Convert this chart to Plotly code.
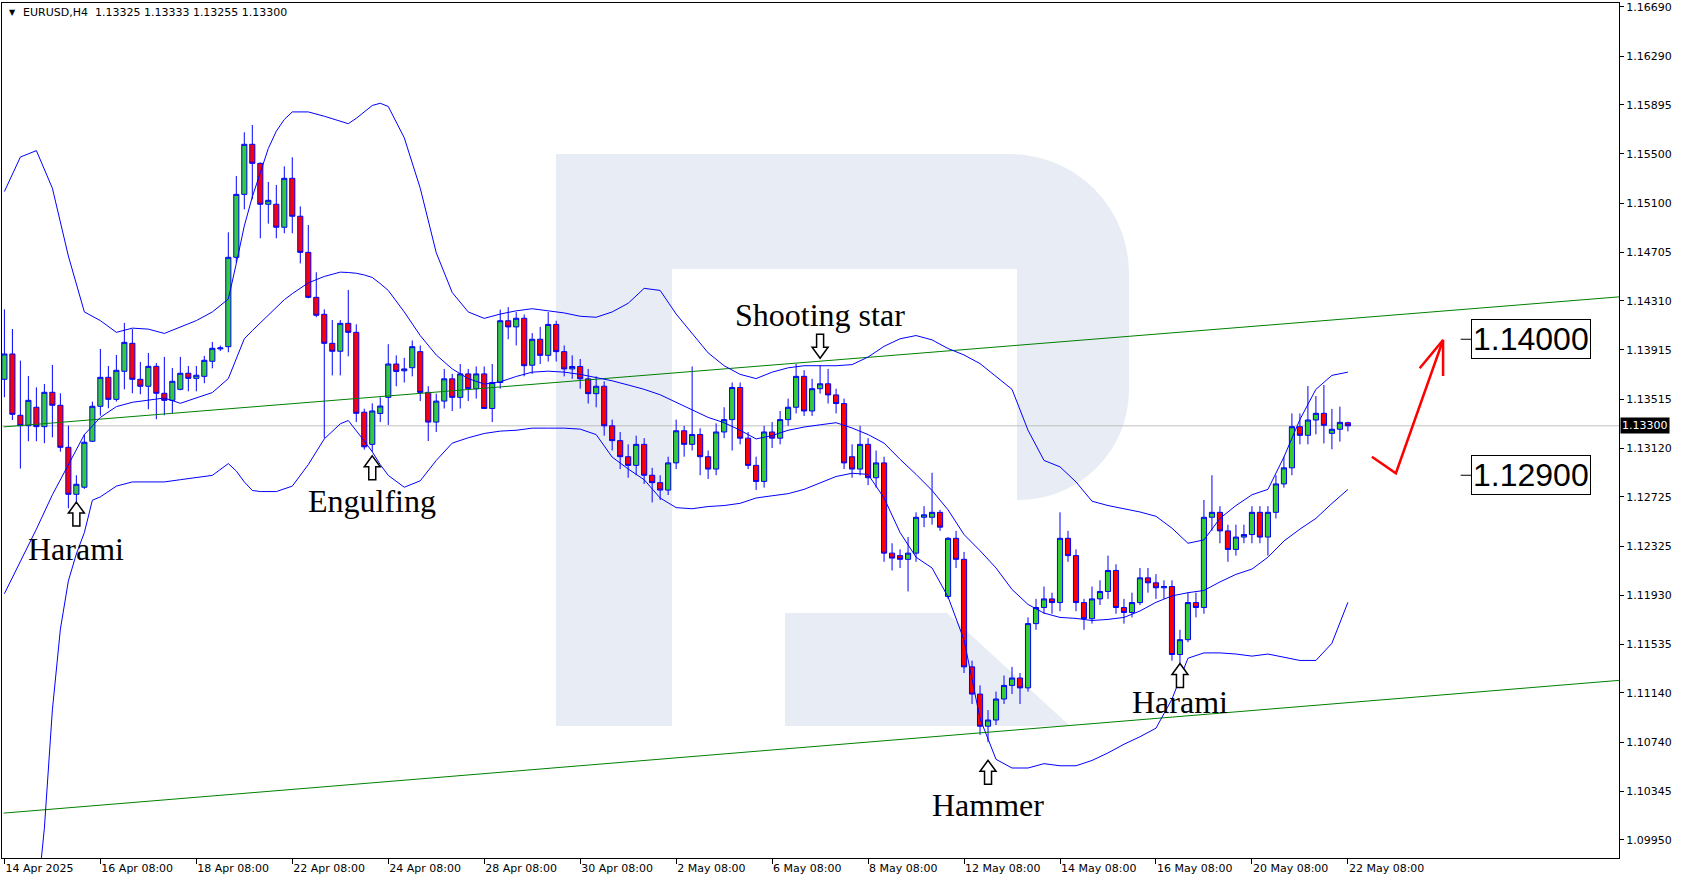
import math
import plotly.graph_objects as go

# ---------------- data ----------------
opens = [1.13676,1.13881,1.13385,1.13301,1.13450,1.13293,1.13571,1.13466,1.13126,1.12746,
         1.12803,1.13175,1.13458,1.13692,1.13514,1.13741,1.13967,1.13676,1.13620,1.13781,
         1.13563,1.13506,1.13595,1.13725,1.13684,1.13700,1.13822,1.13922,1.13940,1.14663,
         1.15172,1.15577,1.15423,1.15092,1.15092,1.14906,1.15302,1.14995,1.14703,1.14339,
         1.14202,1.13967,1.13903,1.14129,1.14056,1.13410,1.13150,1.13400,1.13530,1.13800,
         1.13745,1.13770,1.13900,1.13570,1.13330,1.13500,1.13680,1.13530,1.13720,1.13600,
         1.13720,1.13440,1.13650,1.14150,1.14100,1.14170,1.13790,1.14000,1.13870,1.14120,
         1.13900,1.13760,1.13780,1.13680,1.13560,1.13620,1.13300,1.13180,1.13050,1.12980,
         1.13150,1.12900,1.12840,1.12780,1.13000,1.13260,1.13150,1.13230,1.13050,1.12950,
         1.13250,1.13350,1.13610,1.13200,1.12980,1.12850,1.13250,1.13200,1.13350,1.13450,
         1.13700,1.13420,1.13600,1.13640,1.13550,1.13480,1.13050,1.12950,1.13150,1.12880,
         1.13000,1.12270,1.12250,1.12220,1.12270,1.12560,1.12560,1.12600,1.11920,1.12390,
         1.12220,1.11350,1.11130,1.10870,1.10920,1.11090,1.11200,1.11260,1.11180,1.11700,
         1.11830,1.11900,1.11870,1.12390,1.12250,1.11870,1.11740,1.11900,1.11960,1.12130,
         1.11830,1.11790,1.11870,1.12070,1.12030,1.11990,1.12000,1.11450,1.11570,1.11870,
         1.11830,1.12560,1.12600,1.12450,1.12300,1.12400,1.12420,1.12600,1.12400,1.12600,
         1.12830,1.12960,1.13293,1.13223,1.13347,1.13401,1.13239,1.13272,1.13325]
highs = [1.14242,1.14083,1.13827,1.13703,1.13611,1.13638,1.13792,1.13563,1.13301,1.12900,
         1.13231,1.13496,1.13921,1.13784,1.13873,1.14132,1.14083,1.13816,1.13889,1.13808,
         1.13857,1.13768,1.13857,1.13784,1.13784,1.13865,1.13978,1.13949,1.14865,1.15321,
         1.15674,1.15733,1.15430,1.15272,1.15248,1.15399,1.15472,1.15075,1.14924,1.14542,
         1.14242,1.14156,1.14156,1.14399,1.14121,1.13438,1.13482,1.13530,1.13960,1.13870,
         1.13850,1.13990,1.13950,1.13620,1.13560,1.13760,1.13720,1.13800,1.13760,1.13780,
         1.13780,1.13800,1.14240,1.14260,1.14220,1.14200,1.14050,1.14100,1.14220,1.14150,
         1.13950,1.13870,1.13840,1.13760,1.13700,1.13660,1.13350,1.13250,1.13150,1.13220,
         1.13200,1.12960,1.12900,1.13050,1.13350,1.13300,1.13780,1.13280,1.13100,1.13320,
         1.13450,1.13650,1.13650,1.13250,1.13050,1.13300,1.13330,1.13420,1.13520,1.13800,
         1.13750,1.13680,1.13790,1.13760,1.13600,1.13520,1.13150,1.13300,1.13200,1.13100,
         1.13050,1.12350,1.12300,1.12400,1.12600,1.12650,1.12920,1.12620,1.12400,1.12450,
         1.12280,1.11400,1.11200,1.11000,1.11150,1.11280,1.11350,1.11300,1.11750,1.11900,
         1.12000,1.11950,1.12600,1.12450,1.12300,1.11900,1.12000,1.12050,1.12250,1.12180,
         1.11900,1.11950,1.12150,1.12150,1.12100,1.12050,1.12050,1.11650,1.11950,1.11950,
         1.12700,1.12900,1.12650,1.12500,1.12500,1.12500,1.12650,1.12650,1.12650,1.12900,
         1.13050,1.13400,1.13400,1.13622,1.13541,1.13630,1.13436,1.13455,1.13333]
lows =  [1.13531,1.13347,1.12954,1.13175,1.13175,1.13159,1.13207,1.13091,1.12633,1.12687,
         1.12790,1.13170,1.13382,1.13442,1.13496,1.13595,1.13563,1.13555,1.13434,1.13353,
         1.13385,1.13401,1.13587,1.13579,1.13579,1.13644,1.13765,1.13905,1.13895,1.14614,
         1.15051,1.15132,1.14817,1.14935,1.14817,1.14857,1.14857,1.14614,1.14331,1.14178,
         1.13199,1.13708,1.13708,1.13862,1.13330,1.13107,1.13090,1.13330,1.13307,1.13620,
         1.13650,1.13700,1.13500,1.13177,1.13250,1.13440,1.13420,1.13440,1.13500,1.13520,
         1.13440,1.13330,1.13600,1.14000,1.13950,1.13700,1.13720,1.13800,1.13820,1.13820,
         1.13700,1.13680,1.13600,1.13480,1.13450,1.13220,1.13100,1.12950,1.12880,1.12900,
         1.12830,1.12680,1.12700,1.12740,1.12950,1.13050,1.13100,1.12900,1.12870,1.12900,
         1.13200,1.13100,1.13150,1.12950,1.12780,1.12800,1.13120,1.13150,1.13300,1.13400,
         1.13380,1.13380,1.13560,1.13480,1.13400,1.12950,1.12880,1.12900,1.12820,1.12800,
         1.12200,1.12130,1.12150,1.11960,1.12200,1.12480,1.12500,1.12450,1.11900,1.12150,
         1.11300,1.11050,1.10800,1.10741,1.10880,1.11050,1.11130,1.11050,1.11150,1.11650,
         1.11780,1.11780,1.11800,1.12200,1.11800,1.11650,1.11700,1.11850,1.11900,1.11780,
         1.11700,1.11750,1.11850,1.11950,1.11900,1.11900,1.11400,1.11380,1.11550,1.11750,
         1.11780,1.12450,1.12350,1.12200,1.12250,1.12350,1.12350,1.12350,1.12250,1.12550,
         1.12800,1.12900,1.13150,1.13150,1.13231,1.13158,1.13110,1.13172,1.13255]
closes = [1.13881,1.13393,1.13301,1.13506,1.13293,1.13571,1.13466,1.13126,1.12746,1.12827,
          1.13167,1.13458,1.13692,1.13514,1.13749,1.13975,1.13676,1.13620,1.13781,1.13563,
          1.13506,1.13660,1.13725,1.13684,1.13709,1.13830,1.13927,1.13930,1.14663,1.15172,
          1.15577,1.15423,1.15092,1.15124,1.14906,1.15302,1.14995,1.14703,1.14339,1.14194,
          1.13967,1.13903,1.14129,1.14056,1.13401,1.13130,1.13420,1.13460,1.13800,1.13740,
          1.13760,1.13940,1.13570,1.13330,1.13500,1.13680,1.13530,1.13720,1.13600,1.13720,
          1.13440,1.13650,1.14150,1.14100,1.14170,1.13786,1.14000,1.13870,1.14120,1.13900,
          1.13760,1.13780,1.13680,1.13560,1.13620,1.13300,1.13180,1.13050,1.12980,1.13150,
          1.12900,1.12840,1.12780,1.13000,1.13260,1.13150,1.13230,1.13050,1.12950,1.13250,
          1.13350,1.13610,1.13200,1.12980,1.12850,1.13250,1.13200,1.13350,1.13450,1.13700,
          1.13420,1.13600,1.13640,1.13550,1.13480,1.13000,1.12950,1.13150,1.12880,1.13000,
          1.12270,1.12230,1.12220,1.12270,1.12560,1.12580,1.12600,1.12480,1.12390,1.12220,
          1.11350,1.11130,1.10870,1.10920,1.11090,1.11200,1.11260,1.11180,1.11700,1.11830,
          1.11900,1.11870,1.12390,1.12250,1.11870,1.11740,1.11900,1.11960,1.12130,1.11830,
          1.11790,1.11870,1.12070,1.12030,1.11990,1.12000,1.11450,1.11570,1.11870,1.11830,
          1.12560,1.12600,1.12450,1.12300,1.12400,1.12420,1.12600,1.12400,1.12600,1.12830,
          1.12960,1.13293,1.13223,1.13347,1.13401,1.13304,1.13272,1.13328,1.13300]
bars = list(range(len(opens)))

band_x = [0,2,4,6,8,10,12,14,16,18,20,22,24,26,28,29,30,31,32,33,34,35,36,38,40,42,43,44,45,46,47,48,
          50,52,54,56,58,60,62,64,66,68,70,72,74,76,78,80,82,84,86,88,90,92,94,96,98,100,102,104,106,
          108,110,112,114,116,118,120,122,124,126,128,130,132,134,136,138,140,142,144,146,148,150,152,
          154,156,158,160,162,164,166,168]
upper_band = [1.15195,1.15474,1.15526,1.15222,1.14673,1.14221,1.14151,1.14056,1.14090,1.14082,1.14047,
              1.14099,1.14151,1.14221,1.14325,1.14613,1.14917,1.15152,1.15352,1.15543,1.15683,1.15778,
              1.15839,1.15839,1.15804,1.15761,1.15744,1.15787,1.15839,1.15891,1.15909,1.15883,
              1.15630,1.15222,1.14700,1.14378,1.14221,1.14169,1.14204,1.14230,1.14247,1.14230,1.14213,
              1.14186,1.14178,1.14221,1.14291,1.14412,1.14395,1.14204,1.14047,1.13890,1.13786,1.13716,
              1.13682,1.13734,1.13769,1.13786,1.13786,1.13786,1.13795,1.13856,1.13943,1.14004,1.14030,
              1.13995,1.13925,1.13873,1.13803,1.13699,1.13595,1.13264,1.13020,1.12968,1.12846,1.12690,
              1.12655,1.12629,1.12603,1.12568,1.12472,1.12350,1.12377,1.12551,1.12655,1.12742,1.12786,
              1.13047,1.13351,1.13595,1.13708,1.13734]
middle_band = [1.11942,1.12203,1.12464,1.12742,1.12986,1.13229,1.13368,1.13455,1.13490,1.13508,1.13525,
               1.13482,1.13525,1.13569,1.13682,1.13840,1.14004,1.14070,1.14134,1.14200,1.14264,1.14320,
               1.14369,1.14456,1.14508,1.14543,1.14540,1.14534,1.14520,1.14500,1.14450,1.14395,
               1.14221,1.14030,1.13873,1.13760,1.13682,1.13638,1.13656,1.13699,1.13734,1.13742,1.13734,
               1.13716,1.13690,1.13664,1.13630,1.13595,1.13551,1.13490,1.13429,1.13368,1.13325,1.13264,
               1.13194,1.13221,1.13264,1.13290,1.13308,1.13325,1.13282,1.13229,1.13160,1.13029,1.12907,
               1.12777,1.12620,1.12420,1.12290,1.12150,1.11976,1.11855,1.11785,1.11750,1.11742,1.11725,
               1.11734,1.11750,1.11802,1.11872,1.11924,1.11950,1.11968,1.12037,1.12098,1.12141,1.12237,
               1.12368,1.12464,1.12551,1.12672,1.12785]
lower_x = [4,5,6,7,8,9,10,11,12,14,16,18,20,22,24,26,28,29,30,31,32,34,36,38,40,42,43,44,45,46,47,48,
           50,52,54,56,58,60,62,64,66,68,70,72,74,76,78,80,82,84,86,88,90,92,94,96,98,100,102,104,106,
           108,110,112,114,116,118,120,122,124,126,128,130,132,134,136,138,140,142,144,146,148,150,152,
           154,156,158,160,162,164,166,168]
lower_band = [1.09400,1.10045,1.11002,1.11655,1.12046,1.12264,1.12437,1.12698,1.12725,1.12812,1.12846,
              1.12846,1.12846,1.12864,1.12881,1.12899,1.12994,1.12934,1.12846,1.12777,1.12768,1.12768,
              1.12812,1.12986,1.13194,1.13316,1.13343,1.13264,1.13177,1.13090,1.12986,1.12899,
              1.12803,1.12855,1.13020,1.13160,1.13203,1.13238,1.13257,1.13264,1.13281,1.13281,1.13281,
              1.13273,1.13229,1.13047,1.12951,1.12864,1.12716,1.12638,1.12629,1.12647,1.12655,1.12673,
              1.12716,1.12734,1.12751,1.12786,1.12838,1.12890,1.12916,1.12907,1.12716,1.12437,1.12237,
              1.12150,1.11916,1.11568,1.10932,1.10602,1.10532,1.10532,1.10567,1.10550,1.10550,1.10593,
              1.10654,1.10724,1.10785,1.10854,1.11089,1.11420,1.11463,1.11463,1.11454,1.11437,1.11454,
              1.11428,1.11402,1.11402,1.11541,1.11872]

channel_x = [-0.1, 202.5]
channel_top = [1.13291, 1.14346]
channel_bottom = [1.10167, 1.11244]
last_price = 1.13300

tick_bars = [0,12,24,36,48,60,72,84,96,108,120,132,144,156,168]
tick_labels = ["14 Apr 2025","16 Apr 08:00","18 Apr 08:00","22 Apr 08:00","24 Apr 08:00",
               "28 Apr 08:00","30 Apr 08:00","2 May 08:00","6 May 08:00","8 May 08:00",
               "12 May 08:00","14 May 08:00","16 May 08:00","20 May 08:00","22 May 08:00"]
price_ticks = [1.16690,1.16290,1.15895,1.15500,1.15100,1.14705,1.14310,1.13915,1.13515,
               1.13120,1.12725,1.12325,1.11930,1.11535,1.11140,1.10740,1.10345,1.09950]

patterns = ["Harami","Engulfing","Shooting star","Hammer","Harami"]
pattern_bar = [9, 46, 102, 123, 147]
pattern_text_y = [1.12307, 1.12690, 1.14195, 1.10236, 1.11063]
pattern_arrow_y = [1.12586, 1.12960, 1.13943, 1.10497, 1.11280]
pattern_arrow_up = [True, True, False, True, True]

forecast_x = [171.0, 174.0, 179.9]
forecast_y = [1.13050, 1.12916, 1.13994]
forecast_head_x = [176.98, 179.9, 179.9]
forecast_head_y = [1.13765, 1.13994, 1.13703]
target_levels = [1.14000, 1.12900]
target_labels = ["1.14000", "1.12900"]

header = "EURUSD,H4\u00a0\u00a01.13325 1.13333 1.13255 1.13300"

# ---------------- geometry helpers ----------------
W, H = 1683, 882
PL, PR, PT, PB = 2, 1619, 3, 858
def px(x):
    return (x - PL) / (PR - PL)
def py(y):
    return 1 - (y - PT) / (PB - PT)

shapes = []
annotations = []

# watermark "R"
wm = "#e8ecf4"
def path(points):
    return "M " + " L ".join(f"{px(a):.5f},{py(b):.5f}" for a, b in points) + " Z"
def arc(cx, cy, r, a0, a1, n=14):
    return [(cx + r * math.cos(math.radians(a0 + (a1 - a0) * k / n)),
             cy - r * math.sin(math.radians(a0 + (a1 - a0) * k / n))) for k in range(n + 1)]
stem = [(556,154),(672,154),(672,726),(556,726)]
bowl = ([(672,154)] + arc(1010, 273, 119, 90, 0) + arc(1019, 390, 110, 0, -90) +
        [(1017,500),(1017,269),(672,269)])
leg = [(785,613),(947,613),(1070,726),(785,726)]
for pts in (stem, bowl, leg):
    shapes.append(dict(type="path", xref="paper", yref="paper", path=path(pts), fillcolor=wm,
                       line=dict(width=0), layer="below"))

# current price line
shapes.append(dict(type="line", xref="paper", yref="y", x0=0, x1=1, y0=last_price, y1=last_price,
                   line=dict(color="#c0c0c0", width=1), layer="below"))

fig = go.Figure()

# channel lines
fig.add_trace(go.Scatter(x=channel_x, y=channel_top, mode="lines", line=dict(color="#008000", width=1),
                         hoverinfo="skip"))
fig.add_trace(go.Scatter(x=channel_x, y=channel_bottom, mode="lines", line=dict(color="#008000", width=1),
                         hoverinfo="skip"))

# candles
fig.add_trace(go.Candlestick(x=bars, open=opens, high=highs, low=lows, close=closes,
                             increasing=dict(line=dict(color="#0000ff", width=1), fillcolor="#32cd32"),
                             decreasing=dict(line=dict(color="#0000ff", width=1), fillcolor="#ff0000"),
                             whiskerwidth=0, hoverinfo="skip"))

# Bollinger bands
for bx, by in [(band_x, upper_band), (band_x, middle_band), (lower_x, lower_band)]:
    fig.add_trace(go.Scatter(x=bx, y=by, mode="lines", line=dict(color="#0000ff", width=1),
                             hoverinfo="skip"))

# forecast arrow
fig.add_trace(go.Scatter(x=forecast_x, y=forecast_y, mode="lines", line=dict(color="#ff0000", width=2.5),
                         hoverinfo="skip"))
fig.add_trace(go.Scatter(x=forecast_head_x, y=forecast_head_y, mode="lines",
                         line=dict(color="#ff0000", width=2.5), hoverinfo="skip"))

# pattern labels and hollow arrows
up_path = "M 0 12 L 8 1 L 3.5 1 L 3.5 -12 L -3.5 -12 L -3.5 1 L -8 1 Z"
down_path = "M 0 -12 L 8 -1 L 3.5 -1 L 3.5 12 L -3.5 12 L -3.5 -1 L -8 -1 Z"
for t, b, ty, ay, up in zip(patterns, pattern_bar, pattern_text_y, pattern_arrow_y, pattern_arrow_up):
    annotations.append(dict(x=b, y=ty, xref="x", yref="y", text=t, showarrow=False,
                            font=dict(family="Liberation Serif, Times New Roman, serif", size=32, color="black")))
    shapes.append(dict(type="path", xref="x", yref="y", xsizemode="pixel", ysizemode="pixel",
                       xanchor=b, yanchor=ay, path=up_path if up else down_path,
                       fillcolor="white", line=dict(color="black", width=1.5)))

# target boxes
for lv, lb in zip(target_levels, target_labels):
    shapes.append(dict(type="line", xref="x", yref="y", x0=182.1, x1=183.4, y0=lv, y1=lv,
                       line=dict(color="black", width=1)))
    annotations.append(dict(x=183.4, y=lv, xref="x", yref="y", xanchor="left", text=lb, showarrow=False,
                            font=dict(family="Liberation Sans, Arial, sans-serif", size=32, color="black"),
                            bgcolor="white", bordercolor="black", borderwidth=1, borderpad=1))

# current price tag
annotations.append(dict(x=1, y=last_price, xref="paper", yref="y", xanchor="left", xshift=1,
                        text="1.13300", showarrow=False, bgcolor="black",
                        font=dict(family="DejaVu Sans", size=11, color="white"), borderpad=1))
# header
annotations.append(dict(x=px(7), y=py(12), xref="paper", yref="paper", xanchor="left", yanchor="middle",
                        text="\u25bc", showarrow=False, font=dict(family="DejaVu Sans", size=8, color="black")))
annotations.append(dict(x=px(21), y=py(12), xref="paper", yref="paper", xanchor="left", yanchor="middle",
                        text=header, showarrow=False, font=dict(family="DejaVu Sans", size=11, color="black")))

fig.update_layout(
    width=W, height=H,
    margin=dict(l=PL, r=W - PR, t=PT, b=H - PB),
    paper_bgcolor="white", plot_bgcolor="white",
    showlegend=False, boxgap=0.36, boxgroupgap=0,
    font=dict(family="DejaVu Sans", size=11, color="black"),
    shapes=shapes, annotations=annotations,
    xaxis=dict(range=[-0.3, 201.9], tickvals=tick_bars, ticktext=tick_labels, ticks="outside",
               ticklen=5, tickcolor="black", showgrid=False, zeroline=False, showline=True,
               linecolor="black", linewidth=1, mirror=True, rangeslider=dict(visible=False),
               ticklabelposition="outside right", tickfont=dict(family="DejaVu Sans", size=11)),
    yaxis=dict(range=[1.09804, 1.16720], side="right", tickvals=price_ticks,
               ticktext=[f"{v:.5f}" for v in price_ticks], ticks="outside", ticklen=4,
               tickcolor="black", showgrid=False, zeroline=False, showline=True, linecolor="black",
               linewidth=1, mirror=True, tickfont=dict(family="DejaVu Sans", size=11)),
)

fig.write_html("out.html", config={"displayModeBar": False},
               post_script="document.body.style.margin='0px';document.body.style.overflow='hidden';")
